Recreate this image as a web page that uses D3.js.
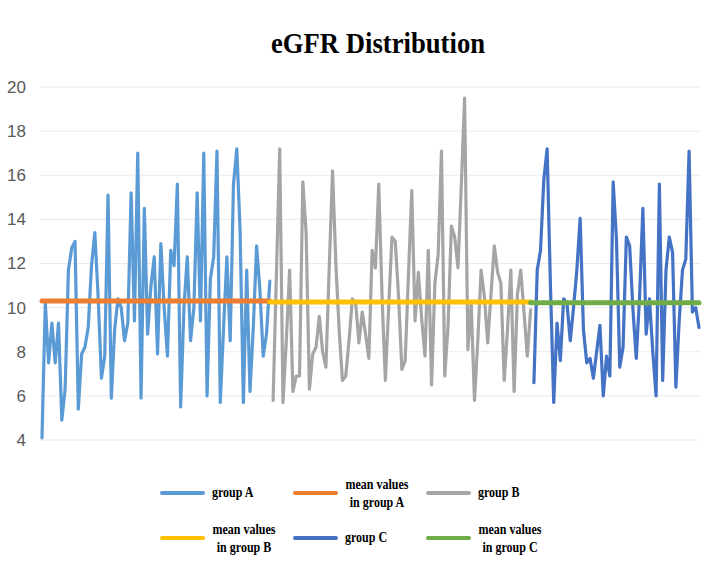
<!DOCTYPE html>
<html><head><meta charset="utf-8">
<script src="https://cdn.jsdelivr.net/npm/d3@7"></script>
<style>body{margin:0;background:#fff}svg{display:block}</style>
</head><body>
<svg id="chart" width="713" height="567"></svg>
<script>
const groupA = [4.1,10.2,7.5,9.3,7.5,9.3,4.9,6.3,11.7,12.7,13.0,5.4,7.9,8.2,9.1,11.9,13.4,10.5,6.8,7.8,15.1,5.9,9.0,10.4,10.0,8.5,9.3,15.2,9.4,17.0,5.9,14.5,8.8,11.0,12.3,7.9,12.9,10.0,7.8,12.6,11.9,15.6,5.5,10.0,12.3,8.5,10.0,15.2,9.4,17.0,6.0,11.3,12.3,17.1,5.7,9.1,12.3,8.5,15.6,17.2,13.5,5.7,11.7,6.2,9.1,12.8,10.8,7.8,8.8,11.2];
const groupB = [5.8,11.5,17.2,5.7,8.5,11.7,6.2,6.9,6.9,15.7,13.4,6.3,7.9,8.2,9.6,8.0,7.3,11.8,16.2,12.0,9.0,6.7,6.9,8.5,10.4,10.2,8.4,9.8,8.8,7.7,12.6,11.8,15.6,10.5,6.7,10.0,13.2,13.0,10.5,7.2,7.6,11.5,15.3,9.4,11.6,9.5,7.8,12.6,6.5,11.1,12.4,17.1,6.9,9.2,13.7,13.2,11.8,15.5,19.5,8.1,10.2,5.8,8.5,11.7,10.5,8.4,10.6,12.8,11.6,11.1,6.7,9.0,11.7,6.2,10.6,11.7,9.8,7.8,9.9];
const groupC = [6.6,11.7,12.6,15.8,17.2,11.0,5.7,9.3,7.6,10.4,10.2,8.5,10.0,11.7,14.05,9.0,7.5,7.7,6.8,8.0,9.2,6.0,7.8,6.9,15.7,13.1,7.3,8.2,13.2,12.8,9.9,7.7,10.5,14.5,8.8,10.4,8.0,6.0,15.6,6.7,11.7,13.2,12.5,6.4,9.4,11.7,12.2,17.1,9.8,10.0,9.1];
const groupMeans = [10.3, 10.25, 10.22];
const yTicks = [4,6,8,10,12,14,16,18,20];
const titleText = "eGFR Distribution";
const legendLabels = [["group A"],["mean values","in group A"],["group B"],["mean values","in group B"],["group C"],["mean values","in group C"]];

const colors = {A:"#5B9BD5", mA:"#ED7D31", B:"#A5A5A5", mB:"#FFC000", C:"#4472C4", mC:"#70AD47"};
const svg = d3.select("#chart");
const N = groupA.length + groupB.length + groupC.length;
const x = d3.scaleLinear().domain([0, N-1]).range([42, 699]);
const y = d3.scaleLinear().domain([4, 20]).range([440, 87]);
const serif = "Liberation Serif, Times New Roman, serif";

// title
svg.append("text").attr("transform","translate(378,53) scale(0.92,1)").attr("text-anchor","middle")
  .attr("font-family",serif).attr("font-weight","bold")
  .attr("font-size", 29).attr("fill","#000").text(titleText);

// gridlines
svg.append("g").selectAll("line").data(yTicks).join("line")
  .attr("x1", 40).attr("x2", 700).attr("y1", d=>y(d)).attr("y2", d=>y(d))
  .attr("stroke","#ebebeb").attr("stroke-width",1);

// y axis labels
const yAxis = d3.axisLeft(y).tickValues(yTicks).tickSize(0).tickPadding(0);
const ga = svg.append("g").attr("transform","translate(26,0)").call(yAxis);
ga.select(".domain").remove();
ga.selectAll("text").attr("font-family","Liberation Sans, Arial, sans-serif").attr("font-size",17).attr("fill","#595959");

const line = d3.line().x(d=>x(d.i)).y(d=>y(d.v));
const offB = groupA.length, offC = groupA.length + groupB.length;
const seriesA = groupA.map((v,k)=>({i:k, v}));
const seriesB = groupB.map((v,k)=>({i:offB+k, v}));
const seriesC = groupC.map((v,k)=>({i:offC+k, v}));
const meanA = [{i:0, v:groupMeans[0]},{i:offB-1, v:groupMeans[0]}];
const meanB = [{i:offB-1, v:groupMeans[1]},{i:offC-1, v:groupMeans[1]}];
const meanC = [{i:offC-1, v:groupMeans[2]},{i:N-1, v:groupMeans[2]}];

const draw = (data, color, w) => svg.append("path").datum(data).attr("d", line)
  .attr("fill","none").attr("stroke",color).attr("stroke-width",w)
  .attr("stroke-linejoin","round").attr("stroke-linecap","round");
draw(seriesA, colors.A, 3.2);
draw(seriesB, colors.B, 3.2);
draw(seriesC, colors.C, 3.2);
draw(meanA, colors.mA, 5);
draw(meanB, colors.mB, 5);
draw(meanC, colors.mC, 5);

// legend
const legColors = [colors.A, colors.mA, colors.B, colors.mB, colors.C, colors.mC];
const colX = [162, 295, 428];
const rowY = [493, 538];
const lg = svg.append("g");
legendLabels.forEach((lab, k) => {
  const cx = colX[k%3], cy = rowY[Math.floor(k/3)];
  lg.append("line").attr("x1", cx).attr("x2", cx+41).attr("y1", cy).attr("y2", cy)
    .attr("stroke", legColors[k]).attr("stroke-width",4).attr("stroke-linecap","round");
  if (lab.length === 1) {
    lg.append("text").attr("transform",`translate(${cx+50},${cy+4}) scale(0.8,1)`)
      .attr("font-family",serif).attr("font-weight","bold").attr("font-size",15).attr("fill","#000")
      .text(lab[0]);
  } else {
    lab.forEach((s, j) => lg.append("text")
      .attr("transform",`translate(${cx+82},${cy - 4 + j*18}) scale(0.8,1)`)
      .attr("text-anchor","middle")
      .attr("font-family",serif).attr("font-weight","bold").attr("font-size",15).attr("fill","#000")
      .text(s));
  }
});
</script>
</body></html>
